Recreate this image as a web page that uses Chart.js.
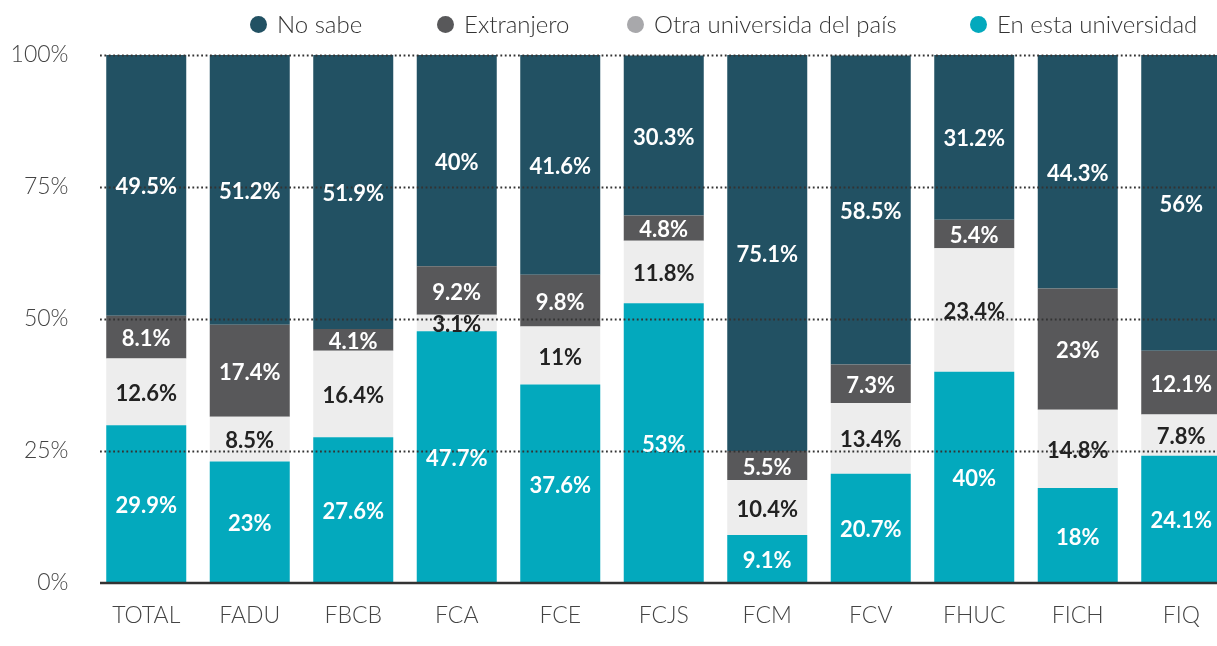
<!DOCTYPE html>
<html>
<head>
<meta charset="utf-8">
<script src="https://cdn.jsdelivr.net/npm/chart.js@4"></script>
<style>
  html, body { margin: 0; padding: 0; background: #fff; overflow: hidden; width: 1217px; height: 646px; }
  #wrap { position: relative; width: 1233px; height: 646px; }
  #legend { position: absolute; top: 0; left: 0; width: 1233px; height: 48px; font-family: Lato, sans-serif; font-weight: 300; font-size: 24px; color: #333; }
  .item { position: absolute; top: 10px; display: flex; align-items: center; white-space: nowrap; line-height: 28px; }
  .dot { width: 17px; height: 17px; border-radius: 50%; margin-right: 10px; }
</style>
</head>
<body>
<div id="wrap">
  <canvas id="c" width="1233" height="646"></canvas>
  <div id="legend"></div>
</div>
<script>
const categories = ['TOTAL','FADU','FBCB','FCA','FCE','FCJS','FCM','FCV','FHUC','FICH','FIQ'];
const enEstaUniversidad = [29.9, 23, 27.6, 47.7, 37.6, 53, 9.1, 20.7, 40, 18, 24.1];
const otraUniversidad   = [12.6, 8.5, 16.4, 3.1, 11, 11.8, 10.4, 13.4, 23.4, 14.8, 7.8];
const extranjero        = [8.1, 17.4, 4.1, 9.2, 9.8, 4.8, 5.5, 7.3, 5.4, 23, 12.1];
const noSabe            = [49.5, 51.2, 51.9, 40, 41.6, 30.3, 75.1, 58.5, 31.2, 44.3, 56];
const seriesNames = ['En esta universidad', 'Otra universida del país', 'Extranjero', 'No sabe'];
const yTickValues = [0, 25, 50, 75, 100];

const barColors    = ['#03a9bd', '#ededed', '#58585a', '#225163'];
const legendColors = ['#03a9bd', '#a8a8ab', '#58585a', '#225163'];
const labelColors  = ['#ffffff', '#222222', '#ffffff', '#ffffff'];

const seriesData = [enEstaUniversidad, otraUniversidad, extranjero, noSabe];

const datasets = seriesData.map((d, i) => ({
  label: seriesNames[i],
  data: d,
  backgroundColor: barColors[i],
  borderWidth: 0,
  barPercentage: 0.773,
  categoryPercentage: 1.0,
  stack: 's'
}));

// HTML legend (top series first)
const legendLefts = [970, 627, 437, 250];
const legendEl = document.getElementById('legend');
[3, 2, 1, 0].forEach(i => {
  const it = document.createElement('div');
  it.className = 'item';
  it.style.left = legendLefts[i] + 'px';
  const dot = document.createElement('span');
  dot.className = 'dot';
  dot.style.background = legendColors[i];
  const tx = document.createElement('span');
  tx.textContent = seriesNames[i];
  it.appendChild(dot); it.appendChild(tx);
  legendEl.appendChild(it);
});

const gridPlugin = {
  id: 'gridOver',
  afterDatasetsDraw(chart) {
    const { ctx, chartArea, scales: { y } } = chart;
    ctx.save();
    ctx.strokeStyle = '#333';
    ctx.lineWidth = 1.8;
    ctx.setLineDash([1.8, 2.6]);
    yTickValues.forEach(v => {
      if (v === 0) return;
      const yy = Math.round(y.getPixelForValue(v)) + 0.5;
      ctx.beginPath();
      ctx.moveTo(100, yy);
      ctx.lineTo(chartArea.right, yy);
      ctx.stroke();
    });
    ctx.setLineDash([]);
    ctx.lineWidth = 2.6;
    ctx.strokeStyle = '#333';
    const y0 = y.getPixelForValue(0);
    ctx.beginPath();
    ctx.moveTo(100, y0);
    ctx.lineTo(chartArea.right, y0);
    ctx.stroke();
    ctx.restore();
  }
};

const labelPlugin = {
  id: 'segLabels',
  afterDraw(chart) {
    const { ctx } = chart;
    ctx.save();
    ctx.font = 'bold 22px Lato, sans-serif';
    ctx.textAlign = 'center';
    ctx.textBaseline = 'middle';
    chart.data.datasets.forEach((ds, i) => {
      const meta = chart.getDatasetMeta(i);
      meta.data.forEach((bar, j) => {
        const v = ds.data[j];
        const yc = (bar.y + bar.base) / 2;
        ctx.fillStyle = labelColors[i];
        ctx.fillText(v + '%', bar.x, yc + 2);
      });
    });
    ctx.restore();
  }
};

new Chart(document.getElementById('c'), {
  type: 'bar',
  data: { labels: categories, datasets },
  plugins: [gridPlugin, labelPlugin],
  options: {
    responsive: false,
    animation: false,
    devicePixelRatio: 1,
    layout: { padding: { top: 55, left: 0, right: 0, bottom: 0 } },
    plugins: { legend: { display: false }, tooltip: { enabled: false } },
    scales: {
      x: {
        stacked: true,
        offset: true,
        grid: { display: false, drawTicks: false },
        border: { display: false },
        ticks: { color: '#444', padding: 19, font: { family: 'Lato', weight: 300, size: 23 } },
        afterFit(s) { s.height = 63; }
      },
      y: {
        stacked: true,
        min: 0, max: 100,
        grid: { display: false, drawTicks: false },
        border: { display: false },
        ticks: {
          stepSize: 25,
          padding: 26,
          color: '#444',
          font: { family: 'Lato', weight: 300, size: 23 },
          callback: v => v + '%'
        },
        afterFit(s) { s.width = 94.5; }
      }
    }
  }
});
</script>
</body>
</html>
